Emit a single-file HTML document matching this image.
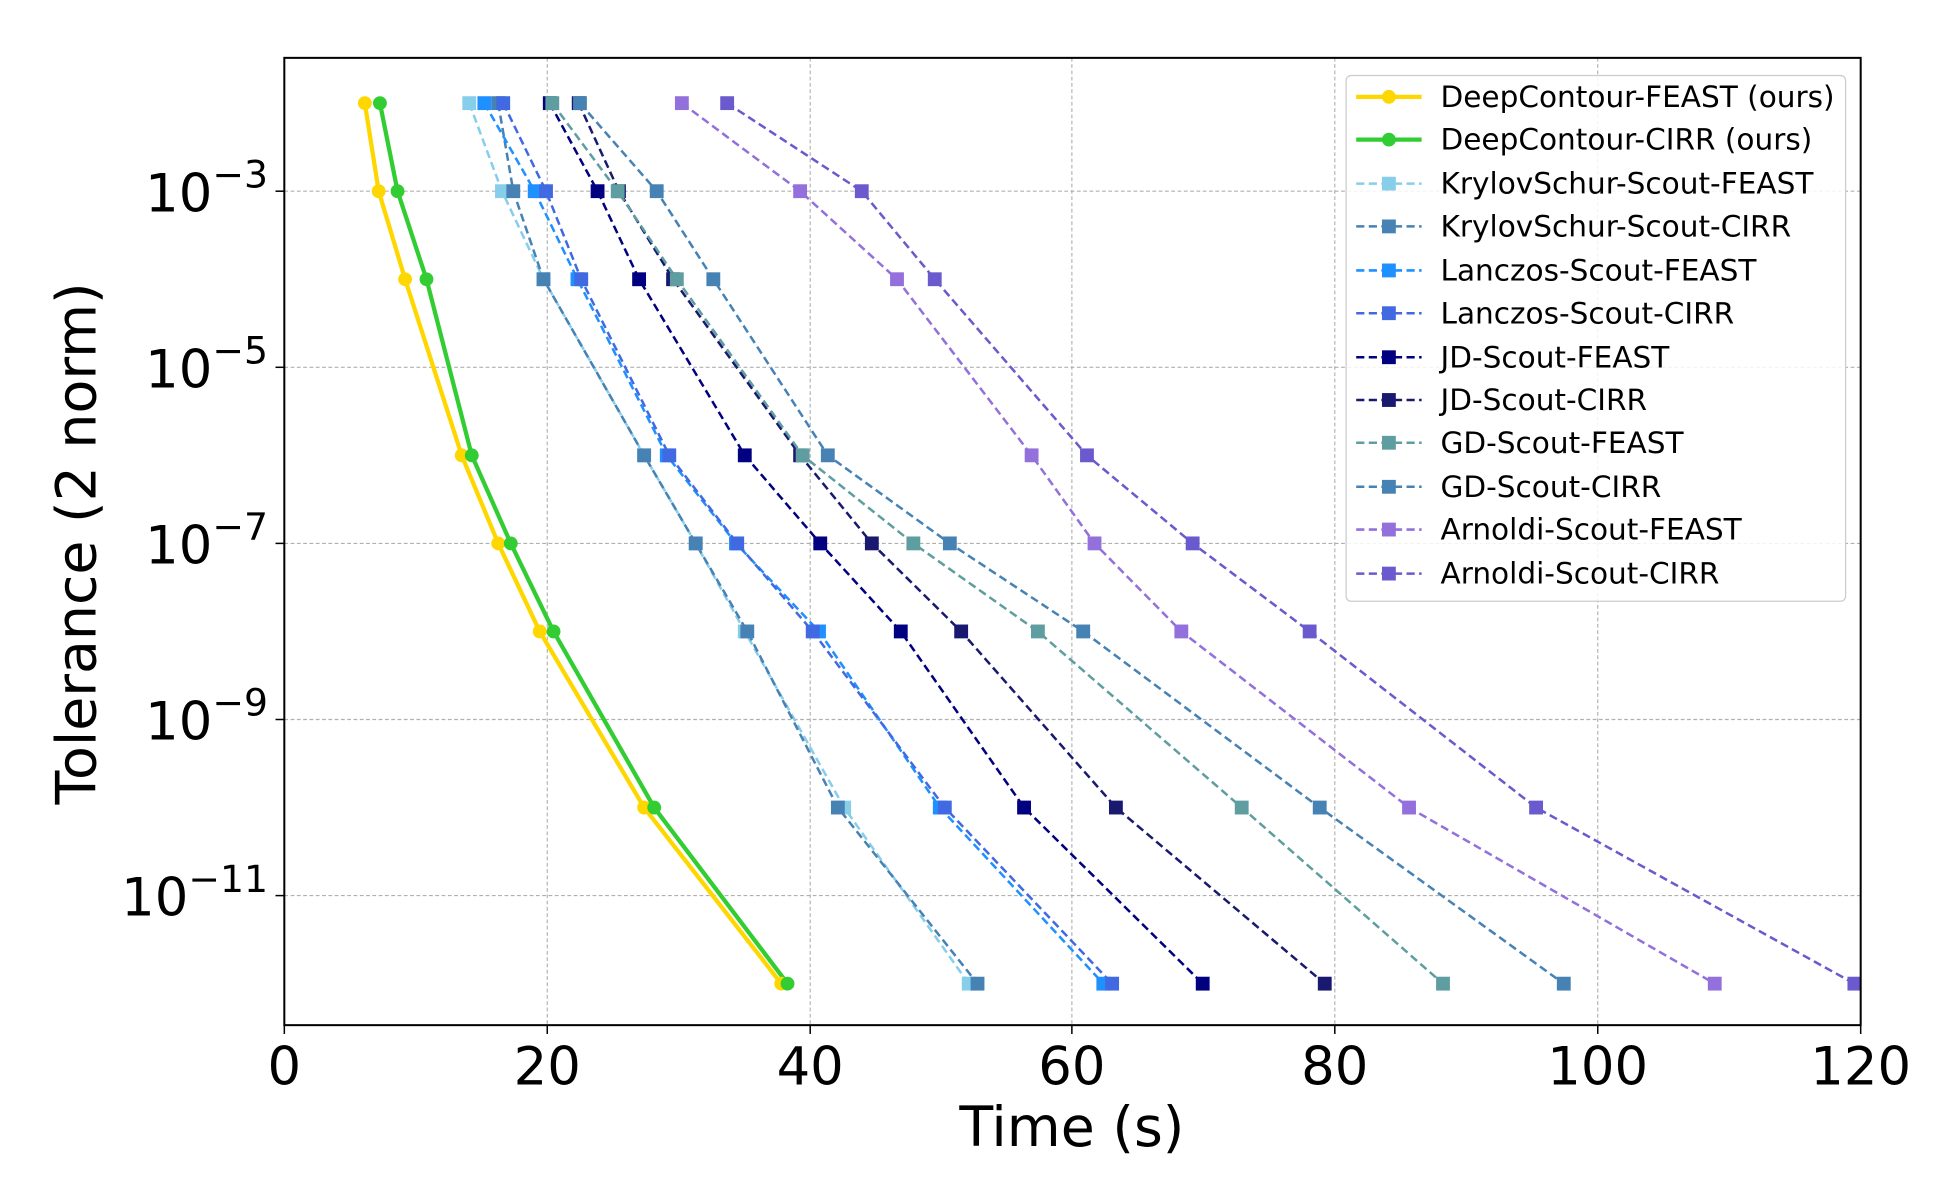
<!DOCTYPE html>
<html><head><meta charset="utf-8"><style>html,body{margin:0;padding:0;background:#fff}svg{display:block}</style></head>
<body>
<svg width="1950" height="1200" viewBox="0 0 1550 954" preserveAspectRatio="none" xmlns="http://www.w3.org/2000/svg" font-family="'DejaVu Sans', 'Liberation Sans', sans-serif">
<rect width="1550" height="954" fill="#fff"/>
<g stroke="#b0b0b0" stroke-width="0.9" stroke-dasharray="3,2">
<line x1="435" y1="46" x2="435" y2="815"/><line x1="644" y1="46" x2="644" y2="815"/><line x1="852" y1="46" x2="852" y2="815"/><line x1="1061" y1="46" x2="1061" y2="815"/><line x1="1270" y1="46" x2="1270" y2="815"/>
<line x1="226" y1="152" x2="1479" y2="152"/><line x1="226" y1="292" x2="1479" y2="292"/><line x1="226" y1="432" x2="1479" y2="432"/><line x1="226" y1="572" x2="1479" y2="572"/><line x1="226" y1="712" x2="1479" y2="712"/>
</g>
<defs>
<g id="s"><rect x="-5.5" y="-5.5" width="11" height="11"/></g>
</defs>
<g fill="none" stroke-width="2" stroke-dasharray="6.5,3.5">
<polyline stroke="#87CEEB" points="373,82 399,152 432,222 512,362 553,432 592,502 671,642 770,782"/>
<polyline stroke="#4682B4" points="396,82 408,152 432,222 512,362 553,432 594,502 666,642 777,782"/>
<polyline stroke="#1E90FF" points="385,82 425,152 459,222 530,362 585,432 651,502 747,642 877,782"/>
<polyline stroke="#4169E1" points="400,82 434,152 462,222 532,362 586,432 646,502 751,642 884,782"/>
<polyline stroke="#000080" points="437,82 475,152 508,222 592,362 652,432 716,502 814,642 956,782"/>
<polyline stroke="#191970" points="460,82 492,152 535,222 636,362 693,432 764,502 887,642 1053,782"/>
<polyline stroke="#5F9EA0" points="439,82 491,152 538,222 638,362 726,432 825,502 987,642 1147,782"/>
<polyline stroke="#4682B4" points="461,82 522,152 567,222 658,362 755,432 861,502 1049,642 1243,782"/>
<polyline stroke="#9370DB" points="542,82 636,152 713,222 820,362 870,432 939,502 1120,642 1363,782"/>
<polyline stroke="#6A5ACD" points="578,82 685,152 743,222 864,362 948,432 1041,502 1221,642 1474,782"/>
</g>
<g>
<g fill="#87CEEB"><use href="#s" x="373" y="82"/><use href="#s" x="399" y="152"/><use href="#s" x="432" y="222"/><use href="#s" x="512" y="362"/><use href="#s" x="553" y="432"/><use href="#s" x="592" y="502"/><use href="#s" x="671" y="642"/><use href="#s" x="770" y="782"/></g>
<g fill="#4682B4"><use href="#s" x="396" y="82"/><use href="#s" x="408" y="152"/><use href="#s" x="432" y="222"/><use href="#s" x="512" y="362"/><use href="#s" x="553" y="432"/><use href="#s" x="594" y="502"/><use href="#s" x="666" y="642"/><use href="#s" x="777" y="782"/></g>
<g fill="#1E90FF"><use href="#s" x="385" y="82"/><use href="#s" x="425" y="152"/><use href="#s" x="459" y="222"/><use href="#s" x="530" y="362"/><use href="#s" x="585" y="432"/><use href="#s" x="651" y="502"/><use href="#s" x="747" y="642"/><use href="#s" x="877" y="782"/></g>
<g fill="#4169E1"><use href="#s" x="400" y="82"/><use href="#s" x="434" y="152"/><use href="#s" x="462" y="222"/><use href="#s" x="532" y="362"/><use href="#s" x="586" y="432"/><use href="#s" x="646" y="502"/><use href="#s" x="751" y="642"/><use href="#s" x="884" y="782"/></g>
<g fill="#000080"><use href="#s" x="437" y="82"/><use href="#s" x="475" y="152"/><use href="#s" x="508" y="222"/><use href="#s" x="592" y="362"/><use href="#s" x="652" y="432"/><use href="#s" x="716" y="502"/><use href="#s" x="814" y="642"/><use href="#s" x="956" y="782"/></g>
<g fill="#191970"><use href="#s" x="460" y="82"/><use href="#s" x="492" y="152"/><use href="#s" x="535" y="222"/><use href="#s" x="636" y="362"/><use href="#s" x="693" y="432"/><use href="#s" x="764" y="502"/><use href="#s" x="887" y="642"/><use href="#s" x="1053" y="782"/></g>
<g fill="#5F9EA0"><use href="#s" x="439" y="82"/><use href="#s" x="491" y="152"/><use href="#s" x="538" y="222"/><use href="#s" x="638" y="362"/><use href="#s" x="726" y="432"/><use href="#s" x="825" y="502"/><use href="#s" x="987" y="642"/><use href="#s" x="1147" y="782"/></g>
<g fill="#4682B4"><use href="#s" x="461" y="82"/><use href="#s" x="522" y="152"/><use href="#s" x="567" y="222"/><use href="#s" x="658" y="362"/><use href="#s" x="755" y="432"/><use href="#s" x="861" y="502"/><use href="#s" x="1049" y="642"/><use href="#s" x="1243" y="782"/></g>
<g fill="#9370DB"><use href="#s" x="542" y="82"/><use href="#s" x="636" y="152"/><use href="#s" x="713" y="222"/><use href="#s" x="820" y="362"/><use href="#s" x="870" y="432"/><use href="#s" x="939" y="502"/><use href="#s" x="1120" y="642"/><use href="#s" x="1363" y="782"/></g>
<g fill="#6A5ACD"><use href="#s" x="578" y="82"/><use href="#s" x="685" y="152"/><use href="#s" x="743" y="222"/><use href="#s" x="864" y="362"/><use href="#s" x="948" y="432"/><use href="#s" x="1041" y="502"/><use href="#s" x="1221" y="642"/><use href="#s" x="1474" y="782"/></g>
</g>
<polyline fill="none" stroke="#FFD700" stroke-width="3.4" points="290,82 301,152 322,222 367,362 396,432 429,502 512,642 621,782"/>
<polyline fill="none" stroke="#32CD32" stroke-width="3.4" points="302,82 316,152 339,222 375,362 406,432 440,502 520,642 626,782"/>
<g fill="#FFD700"><circle cx="290" cy="82" r="5.5"/><circle cx="301" cy="152" r="5.5"/><circle cx="322" cy="222" r="5.5"/><circle cx="367" cy="362" r="5.5"/><circle cx="396" cy="432" r="5.5"/><circle cx="429" cy="502" r="5.5"/><circle cx="512" cy="642" r="5.5"/><circle cx="621" cy="782" r="5.5"/></g>
<g fill="#32CD32"><circle cx="302" cy="82" r="5.5"/><circle cx="316" cy="152" r="5.5"/><circle cx="339" cy="222" r="5.5"/><circle cx="375" cy="362" r="5.5"/><circle cx="406" cy="432" r="5.5"/><circle cx="440" cy="502" r="5.5"/><circle cx="520" cy="642" r="5.5"/><circle cx="626" cy="782" r="5.5"/></g>
<rect x="226" y="46" width="1253" height="769" fill="none" stroke="#000" stroke-width="1.6"/>
<g stroke="#000" stroke-width="1.2">
<line x1="226" y1="815" x2="226" y2="822"/><line x1="435" y1="815" x2="435" y2="822"/><line x1="644" y1="815" x2="644" y2="822"/><line x1="852" y1="815" x2="852" y2="822"/><line x1="1061" y1="815" x2="1061" y2="822"/><line x1="1270" y1="815" x2="1270" y2="822"/><line x1="1479" y1="815" x2="1479" y2="822"/>
<line x1="219" y1="152" x2="226" y2="152"/><line x1="219" y1="292" x2="226" y2="292"/><line x1="219" y1="432" x2="226" y2="432"/><line x1="219" y1="572" x2="226" y2="572"/><line x1="219" y1="712" x2="226" y2="712"/>
</g>
<g font-size="42" text-anchor="middle" fill="#000">
<text x="226" y="862">0</text><text x="435" y="862">20</text><text x="644" y="862">40</text><text x="852" y="862">60</text><text x="1061" y="862">80</text><text x="1270" y="862">100</text><text x="1479" y="862">120</text>
</g>
<g font-size="42" text-anchor="end" fill="#000">
<text x="213" y="168">10<tspan font-size="30" dy="-19">−3</tspan></text>
<text x="213" y="308">10<tspan font-size="30" dy="-19">−5</tspan></text>
<text x="213" y="448">10<tspan font-size="30" dy="-19">−7</tspan></text>
<text x="213" y="588">10<tspan font-size="30" dy="-19">−9</tspan></text>
<text x="213" y="728">10<tspan font-size="30" dy="-19">−11</tspan></text>
</g>
<text x="852" y="911" font-size="44" text-anchor="middle">Time (s)</text>
<text transform="translate(76,432) rotate(-90)" font-size="44" text-anchor="middle">Tolerance (2 norm)</text>
<rect x="1070" y="60" width="397" height="418" rx="4" fill="#fff" fill-opacity="0.85" stroke="#ccc" stroke-width="1"/>
<g font-size="23.5" fill="#000">
<line x1="1078" y1="77" x2="1130" y2="77" stroke="#FFD700" stroke-width="3.4"/><circle cx="1104" cy="77" r="5.5" fill="#FFD700"/><text x="1145" y="85">DeepContour-FEAST (ours)</text>
<line x1="1078" y1="111" x2="1130" y2="111" stroke="#32CD32" stroke-width="3.4"/><circle cx="1104" cy="111" r="5.5" fill="#32CD32"/><text x="1145" y="119">DeepContour-CIRR (ours)</text>
<g stroke-width="2" stroke-dasharray="6.5,3.5">
<line x1="1078" y1="146" x2="1130" y2="146" stroke="#87CEEB"/>
<line x1="1078" y1="180" x2="1130" y2="180" stroke="#4682B4"/>
<line x1="1078" y1="215" x2="1130" y2="215" stroke="#1E90FF"/>
<line x1="1078" y1="249" x2="1130" y2="249" stroke="#4169E1"/>
<line x1="1078" y1="284" x2="1130" y2="284" stroke="#000080"/>
<line x1="1078" y1="318" x2="1130" y2="318" stroke="#191970"/>
<line x1="1078" y1="352" x2="1130" y2="352" stroke="#5F9EA0"/>
<line x1="1078" y1="387" x2="1130" y2="387" stroke="#4682B4"/>
<line x1="1078" y1="421" x2="1130" y2="421" stroke="#9370DB"/>
<line x1="1078" y1="456" x2="1130" y2="456" stroke="#6A5ACD"/>
</g>
<use href="#s" x="1104" y="146" fill="#87CEEB"/><text x="1145" y="154">KrylovSchur-Scout-FEAST</text>
<use href="#s" x="1104" y="180" fill="#4682B4"/><text x="1145" y="188">KrylovSchur-Scout-CIRR</text>
<use href="#s" x="1104" y="215" fill="#1E90FF"/><text x="1145" y="223">Lanczos-Scout-FEAST</text>
<use href="#s" x="1104" y="249" fill="#4169E1"/><text x="1145" y="257">Lanczos-Scout-CIRR</text>
<use href="#s" x="1104" y="284" fill="#000080"/><text x="1145" y="292">JD-Scout-FEAST</text>
<use href="#s" x="1104" y="318" fill="#191970"/><text x="1145" y="326">JD-Scout-CIRR</text>
<use href="#s" x="1104" y="352" fill="#5F9EA0"/><text x="1145" y="360">GD-Scout-FEAST</text>
<use href="#s" x="1104" y="387" fill="#4682B4"/><text x="1145" y="395">GD-Scout-CIRR</text>
<use href="#s" x="1104" y="421" fill="#9370DB"/><text x="1145" y="429">Arnoldi-Scout-FEAST</text>
<use href="#s" x="1104" y="456" fill="#6A5ACD"/><text x="1145" y="464">Arnoldi-Scout-CIRR</text>
</g>
</svg>
</body></html>
